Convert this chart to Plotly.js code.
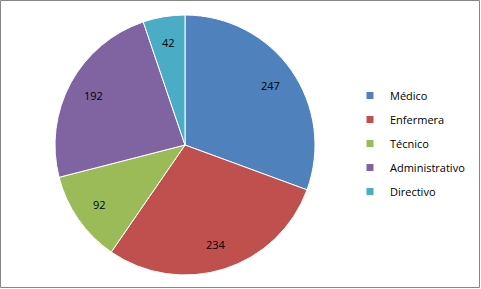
<!DOCTYPE html>
<html><head><meta charset="utf-8">
<script src="https://cdn.plot.ly/plotly-3.0.1.min.js"></script>
<style>html,body{margin:0;padding:0;background:#fff;}#chart{width:481px;height:289px;}</style>
</head><body><div id="chart"></div>
<script>
const categories = ["Médico", "Enfermera", "Técnico", "Administrativo", "Directivo"];
const values = [247, 234, 92, 192, 42];
const colors = ["#4F81BD", "#C0504D", "#9BBB59", "#8064A2", "#4BACC6"];

const W = 481, H = 289;
const CX = 185, CY = 145, R = 130;
const FONT = "Open Sans, sans-serif";

const pie = {
  type: "pie",
  labels: categories,
  values: values,
  sort: false,
  direction: "clockwise",
  rotation: 0,
  marker: {colors: colors, line: {color: "#ffffff", width: 1}},
  textinfo: "none",
  showlegend: false,
  hoverinfo: "label+value",
  domain: {x: [(CX - R) / W, (CX + R) / W], y: [(H - CY - R) / H, (H - CY + R) / H]}
};

// legend entries (one per category), drawn as legend-only markers
const legendTraces = categories.map((c, i) => ({
  type: "scatter", mode: "markers", x: [null], y: [null], name: c,
  legendgroup: "g" + i,
  marker: {symbol: "square", size: 7, color: colors[i]},
  hoverinfo: "skip"
}));

// value labels placed at slice mid-angles
const total = values.reduce((a, b) => a + b, 0);
let cum = 0;
const annotations = values.map(v => {
  const mid = (cum + v / 2) / total * 2 * Math.PI;
  cum += v;
  const k = 0.8 * R;
  return {
    xref: "paper", yref: "paper", showarrow: false, xanchor: "center", yanchor: "middle",
    x: (CX + Math.sin(mid) * k) / W, y: (H - (CY - Math.cos(mid) * k)) / H,
    text: String(v), font: {family: FONT, size: 11, color: "#000000"}
  };
});

const layout = {
  width: W, height: H,
  margin: {l: 0, r: 0, t: 0, b: 0},
  paper_bgcolor: "#ffffff", plot_bgcolor: "rgba(0,0,0,0)",
  xaxis: {visible: false}, yaxis: {visible: false},
  showlegend: true,
  legend: {
    x: 350 / W, xanchor: "left", y: (H - 81) / H, yanchor: "top",
    font: {family: FONT, size: 11, color: "#000000"},
    tracegroupgap: 5, itemwidth: 30, bgcolor: "rgba(0,0,0,0)"
  },
  annotations: annotations,
  shapes: [{type: "rect", xref: "paper", yref: "paper", x0: 0.5 / W, x1: 1 - 1.5 / W, y0: 1.5 / H, y1: 1 - 0.5 / H,
    line: {color: "#868686", width: 1}}]
};
Plotly.newPlot("chart", [pie].concat(legendTraces), layout, {displayModeBar: false, staticPlot: true});
</script></body></html>
